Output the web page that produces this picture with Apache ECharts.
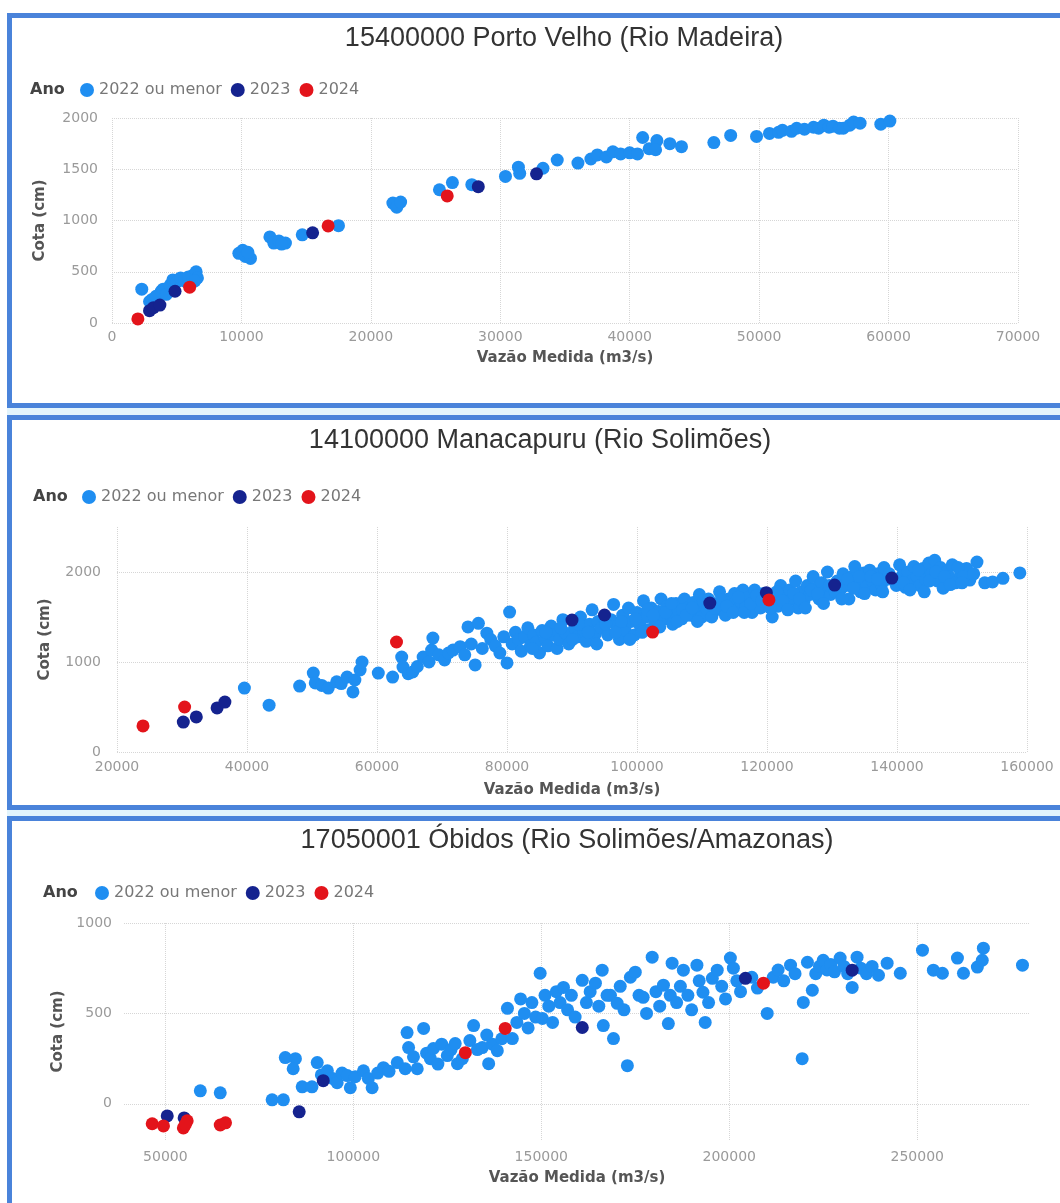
<!DOCTYPE html>
<html>
<head>
<meta charset="utf-8">
<script src="https://cdn.jsdelivr.net/npm/echarts@6/dist/echarts.min.js"></script>
<style>
html,body{margin:0;padding:0;background:#fff;}
body{width:1060px;height:1203px;overflow:hidden;position:relative;}
.gap{position:absolute;left:7px;width:1060px;background:#e3f4fc;}
.panel{position:absolute;left:7px;width:1048px;border:5px solid #4a83da;background:#fff;}
.chart{width:1048px;height:385px;}
</style>
</head>
<body>
<div class="gap" style="top:408px;height:8px"></div>
<div class="gap" style="top:810px;height:7px"></div>
<div class="panel" style="top:13px"><div id="c1" class="chart"></div></div>
<div class="panel" style="top:415px"><div id="c2" class="chart"></div></div>
<div class="panel" style="top:816px;border-bottom:none"><div id="c3" class="chart" style="height:382px"></div></div>
<script>
// ---------- shared labels ----------
const seriesNames = ['2022 ou menor', '2023', '2024'];
const legendTitle = 'Ano';
const xName = 'Vazão Medida (m3/s)';
const yName = 'Cota (cm)';

// ---------- Panel 1: 15400000 Porto Velho (Rio Madeira) ----------
const p1Title = '15400000 Porto Velho (Rio Madeira)';
const p1Light = [[2300,330],[2900,210],[3100,230],[3400,260],[3800,310],[3950,330],[4200,280],[4500,370],[4700,420],[5000,400],[5300,440],[5600,410],[5900,450],[6200,460],[6500,500],[6600,440],[6400,410],
[9800,680],[10100,710],[10300,650],[10700,630],[10500,690],
[12200,840],[12500,780],[12900,800],[13400,780],[13100,770],[14700,860],[17500,950],
[21700,1170],[22000,1130],[22300,1180],
[25300,1300],[26300,1370],[27800,1350],
[30400,1430],[31400,1520],[31500,1460],[33300,1510],[34400,1590],
[36000,1560],[37000,1600],[37500,1640],[38200,1620],[38700,1670],[39300,1650],[40000,1660],[40600,1650],[41000,1810],[41500,1700],[42100,1780],[42000,1690],[43100,1750],[44000,1720],[46500,1760],[47800,1830],[49800,1820],[50800,1850],[51500,1860],[51800,1880],[52500,1870],[52900,1900],[53500,1890],[54200,1910],[54600,1900],[55000,1930],[55400,1910],[55700,1920],[56200,1900],[56500,1900],[57000,1930],[57300,1960],[57800,1950],[59400,1940],[60100,1970]];
const p1Dark = [[2900,120],[3200,150],[3700,175],[4870,310],[15500,880],[28300,1330],[32800,1455]];
const p1Red = [[2000,40],[6000,350],[16700,947],[25900,1240]];

// ---------- Panel 2: 14100000 Manacapuru (Rio Solimões) ----------
const p2Title = '14100000 Manacapuru (Rio Solimões)';
const p2Light = [[39600,710],[43400,520],[48100,733],[50200,877],[50500,767],[51500,740],[52500,710],[53800,780],[54500,760],[55400,833],[56300,667],[56600,800],[57400,911],[57700,1000],[60200,877],[62400,833],[63800,1055],[64000,944],[64800,870],[65500,889],[66200,950],[67100,1055],[68000,1000],[68400,1133],[68600,1266],[69500,1080],[70400,1022],[71000,1100],[71700,1133],[72800,1170],[73500,1080],[74000,1390],[74500,1200],[75100,967],[75600,1430],[76200,1150],[76900,1320],[77500,1250],[78200,1180],[78900,1100],[79500,1280],[80000,990],[80400,1555],[80800,1200],[81300,1330],[81800,1250],[82200,1120],[82700,1280],[83200,1380],[83600,1180],[84100,1300],[84500,1220],[85000,1100],[85400,1350],[85900,1260],[86300,1180],[86800,1400],[87200,1300],[87700,1150],[88100,1250],[88600,1470],[89000,1320],[89500,1200],[90400,1380],[90900,1280],[91300,1500],[91800,1350],[92200,1230],[92700,1420],[93100,1580],[93600,1310],[94000,1450],[94500,1380],[95500,1300],[96000,1470],[96400,1640],[96900,1400],[97300,1250],[97800,1520],[98200,1350],[98700,1600],[99100,1450],[99600,1300],[100000,1550],[100500,1400],[101000,1680],[101400,1500],[101900,1360],[102200,1600],[102800,1450],[103300,1560],[103700,1700],[104200,1480],[104600,1620],[105100,1530],[105500,1420],[106000,1650],[106400,1560],[106900,1480],[107300,1700],[107800,1600],[108200,1520],[108700,1660],[109100,1580],[109600,1750],[110000,1500],[110500,1620],[111000,1700],[111800,1560],[112300,1650],[112700,1780],[113200,1600],[113600,1520],[114100,1700],[114500,1630],[115000,1760],[115400,1580],[115900,1680],[116300,1800],[116800,1620],[117200,1720],[117700,1550],[118100,1800],[118600,1680],[119000,1600],[119500,1760],[120800,1500],[121200,1700],[121700,1620],[122100,1850],[122600,1750],[123000,1650],[123500,1800],[123900,1700],[124400,1900],[124800,1600],[125300,1780],[125700,1680],[126200,1850],[126600,1750],[127100,1950],[127500,1820],[128000,1700],[128400,1880],[128900,1780],[129300,2000],[129800,1750],[130800,1900],[131300,1800],[131700,1980],[132200,1850],[132600,1700],[133100,1950],[133500,2060],[134000,1880],[134400,1780],[134900,1990],[135300,1860],[135800,2020],[136200,1900],[136700,1800],[137100,1980],[137600,1860],[138000,2050],[138500,1920],[139900,1850],[140400,2080],[140800,1960],[141300,1830],[141700,2000],[142200,1900],[142600,2060],[143100,1950],[143500,1850],[144000,2040],[144400,1920],[144900,2100],[145300,1980],[145800,2130],[146200,1900],[146700,2050],[147100,1820],[147600,2000],[148000,1950],[148500,2080],[149000,1880],[149800,1980],[150700,2040],[151200,1910],[152300,2110],[153500,1880],[154700,1890],[156300,1930],[158900,1990],
[83900,1150],[86000,1330],[88300,1380],[90100,1250],[91000,1420],[92500,1330],[93800,1200],[95200,1420],[96700,1330],[97600,1450],[98900,1250],[99800,1480],[100800,1330],[101600,1580],[102500,1520],[103500,1390],[104400,1550],[105300,1650],[106200,1450],[107000,1580],[107600,1520],[108500,1600],[109300,1450],[110200,1680],[110800,1580],[111500,1500],[112000,1600],[113000,1690],[113800,1620],[114800,1550],[115600,1720],[116500,1550],[117500,1650],[118400,1740],[119200,1680],[120500,1600],[121500,1780],[122400,1680],[123200,1580],[124100,1760],[125000,1700],[125900,1600],[126800,1800],[127800,1760],[128700,1650],[129600,1850],[130500,1780],[131500,1700],[132400,1920],[133300,1820],[134200,1950],[135000,1760],[136000,1950],[137000,1920],[137800,1780],[138800,1980],[140100,1900],[141000,1880],[142000,1800],[143300,2020],[144200,1780],[145000,1900],[146000,2000],[147300,1950],[148200,1860],[149400,2050],[150200,1950],[151800,1980],[150000,1880]];
const p2Dark = [[30200,333],[32200,390],[35400,490],[36600,555],[90000,1466],[95000,1522],[111200,1655],[119900,1770],[130400,1855],[139200,1933]];
const p2Red = [[24000,290],[30400,500],[63000,1222],[102400,1333],[120300,1690]];

// ---------- Panel 3: 17050001 Óbidos (Rio Solimões/Amazonas) ----------
const p3Title = '17050001 Óbidos (Rio Solimões/Amazonas)';
const p3Light = [[59300,72],[64600,61],[78400,22],[81400,22],[81900,256],[84600,250],[84000,194],[86400,94],[89000,94],[90400,228],[91500,160],[93100,183],[94500,140],[95700,117],[97000,170],[98400,156],[99200,89],[100500,150],[102700,183],[104000,140],[105000,89],[106500,170],[108000,200],[109500,180],[111700,228],[113800,194],[114300,394],[114700,311],[116000,260],[117000,194],[118700,417],[119500,280],[120500,250],[121300,306],[122500,220],[123500,330],[125000,267],[126000,300],[127100,333],[127700,222],[129000,250],[131000,350],[132000,433],[133000,300],[134300,311],[135500,380],[136000,222],[137000,330],[138300,294],[139500,360],[141000,528],[142300,361],[143500,450],[144500,580],[145500,500],[146500,420],[147500,560],[148500,480],[149700,722],[150300,472],[151000,600],[152000,540],[153000,450],[154000,620],[155000,560],[155900,644],[157000,520],[158000,600],[159000,480],[160900,683],[162000,560],[163000,620],[164400,667],[165300,540],[166200,739],[166500,433],[167500,600],[168400,600],[169200,361],[170200,556],[171000,650],[172000,520],[172900,211],[173700,700],[175000,728],[176000,600],[177100,589],[178000,500],[179500,811],[180500,620],[181500,540],[182500,656],[183800,444],[184300,600],[184800,778],[186000,560],[187000,650],[187800,739],[189000,600],[190000,520],[191400,767],[192000,680],[193000,617],[193600,450],[194500,560],[195500,694],[196800,739],[198000,650],[199000,580],[200300,806],[201100,750],[202000,680],[203000,620],[206000,700],[207500,640],[210100,500],[211700,700],[213000,740],[214500,680],[216300,767],[217500,720],[219400,250],[219700,561],[220800,783],[222100,628],[223000,720],[224000,760],[225000,794],[226000,740],[227000,770],[228000,730],[229500,806],[230500,760],[231500,720],[232700,644],[234000,811],[235000,750],[236500,720],[238000,760],[239700,711],[242000,778],[245500,722],[251400,850],[254300,739],[256700,722],[260700,806],[262300,722],[266000,756],[267300,794],[267600,861],[278000,767]];
const p3Dark = [[50500,-67],[55000,-78],[85600,-44],[92000,128],[160900,422],[204300,694],[232700,739]];
const p3Red = [[46500,-110],[49500,-122],[54800,-133],[55800,-94],[55300,-115],[64600,-117],[66000,-105],[129800,283],[140400,417],[209100,667]];
const p3XTicks = [50000, 100000, 150000, 200000, 250000];
const p3YTicks = [0, 500, 1000];

const colors = ['#1f8ef1', '#15238f', '#e3141b'];
const gridLine = {show: true, lineStyle: {type: 'dotted', color: '#d6d6d6', width: 1}};
const tickFont = {fontFamily: 'DejaVu Sans', fontSize: 14, color: '#9a9a9a'};
const nameFont = {fontFamily: 'DejaVu Sans', fontSize: 15, fontWeight: 'bold', color: '#555'};

function axis(cfg, dir) {
  const a = {
    type: 'value', min: cfg.min, max: cfg.max,
    name: dir === 'x' ? xName : yName,
    nameLocation: 'middle', nameGap: cfg.nameGap, nameTextStyle: nameFont,
    axisLine: {show: false},
    axisTick: {show: false},
    axisLabel: Object.assign({margin: cfg.margin, formatter: v => String(v), showMaxLabel: cfg.showMax !== false}, tickFont),
    splitLine: Object.assign({showMaxLine: cfg.showMax !== false}, gridLine)
  };
  if (cfg.interval) a.interval = cfg.interval;
  if (cfg.ticks) {
    a.axisTick.customValues = cfg.ticks;
    a.axisLabel.customValues = cfg.ticks;
  }
  return a;
}

function build(p) {
  return {
    animation: false,
    title: [
      {text: p.title, left: p.titleX, top: p.titleTop, textAlign: 'center', padding: 0,
       textStyle: {fontFamily: 'Liberation Sans', fontSize: 27, fontWeight: 'normal', color: '#333'}},
      {text: legendTitle, left: p.anoX, top: p.legendTop, padding: 0,
       textStyle: {fontFamily: 'DejaVu Sans', fontSize: 16, fontWeight: 'bold', color: '#444'}}
    ],
    legend: {left: p.legendX, top: p.legendTop, padding: 0, itemGap: 9, itemWidth: 14, itemHeight: 14,
      icon: 'circle', data: seriesNames,
      textStyle: {fontFamily: 'DejaVu Sans', fontSize: 16, color: '#777'}},
    grid: Object.assign({containLabel: false, outerBoundsMode: 'none'}, p.grid),
    xAxis: axis(p.x, 'x'),
    yAxis: axis(p.y, 'y'),
    series: [p.light, p.dark, p.red].map((d, i) => ({
      type: 'scatter', name: seriesNames[i], data: d, symbolSize: 13, clip: false,
      itemStyle: {color: colors[i], opacity: 1}
    }))
  };
}

const panels = [
  {id: 'c1', title: p1Title, titleX: 552, titleTop: 7, anoX: 18, legendX: 68, legendTop: 64,
   grid: {left: 100, right: 42, top: 100, bottom: 80},
   x: {min: 0, max: 70000, interval: 10000, margin: 7, nameGap: 28},
   y: {min: 0, max: 2000, interval: 500, margin: 14, nameGap: 64},
   light: p1Light, dark: p1Dark, red: p1Red},
  {id: 'c2', title: p2Title, titleX: 528, titleTop: 7, anoX: 21, legendX: 70, legendTop: 69,
   grid: {left: 105, right: 33, top: 107, bottom: 53},
   x: {min: 20000, max: 160000, interval: 20000, margin: 8, nameGap: 31},
   y: {min: 0, max: 2500, interval: 1000, margin: 16, nameGap: 64, showMax: false},
   light: p2Light, dark: p2Dark, red: p2Red},
  {id: 'c3', title: p3Title, titleX: 555, titleTop: 6, anoX: 31, legendX: 83, legendTop: 64,
   grid: {left: 112, right: 30, top: 102, bottom: 63},
   x: {min: 39000, max: 280000, ticks: p3XTicks, margin: 10, nameGap: 31},
   y: {min: -200, max: 1000, ticks: p3YTicks, margin: 12, nameGap: 58},
   light: p3Light, dark: p3Dark, red: p3Red}
];

panels.forEach(p => {
  const chart = echarts.init(document.getElementById(p.id), null, {renderer: 'canvas'});
  chart.setOption(build(p));
});
</script>
</body>
</html>
